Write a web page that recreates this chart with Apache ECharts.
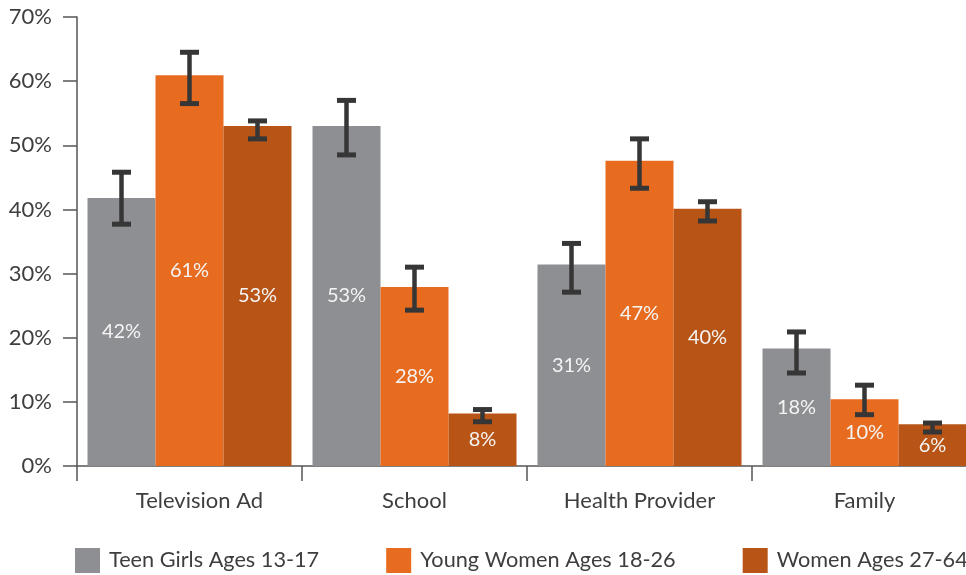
<!DOCTYPE html>
<html>
<head>
<meta charset="utf-8">
<script src="https://cdn.jsdelivr.net/npm/echarts@6/dist/echarts.min.js"></script>
<style>
html,body{margin:0;padding:0;background:#fff;overflow:hidden;width:966px;height:575px;}
#chart{width:977px;height:575px;}
</style>
</head>
<body>
<div id="chart"></div>
<script>
const categories = ['Television Ad', 'School', 'Health Provider', 'Family'];
const seriesNames = ['Teen Girls Ages 13-17', 'Young Women Ages 18-26', 'Women Ages 27-64'];
const yTicks = [0, 10, 20, 30, 40, 50, 60, 70];

const teen = [41.8, 53.0, 31.4, 18.3];
const young = [60.9, 27.9, 47.6, 10.4];
const women = [53.0, 8.2, 40.1, 6.5];

const teenLabels = ['42%', '53%', '31%', '18%'];
const youngLabels = ['61%', '28%', '47%', '10%'];
const womenLabels = ['53%', '8%', '40%', '6%'];

const teenLow = [37.7, 48.5, 27.1, 14.5];
const teenHigh = [45.8, 57.0, 34.7, 20.9];
const youngLow = [56.5, 24.3, 43.3, 8.0];
const youngHigh = [64.5, 31.0, 51.0, 12.6];
const womenLow = [51.0, 6.9, 38.2, 5.3];
const womenHigh = [53.8, 8.8, 41.2, 6.7];

const colors = ['#8E8F93', '#E86C20', '#B85516'];
const FONT = 'Lato';
const BAR_W = 68;

const chart = echarts.init(document.getElementById('chart'), null, {renderer: 'canvas'});

function barSeries(name, values, labels, color) {
  return {
    name: name,
    type: 'bar',
    data: values,
    barWidth: BAR_W,
    barGap: '0%',
    itemStyle: {color: color},
    label: {
      show: true,
      position: 'inside',
      formatter: (p) => labels[p.dataIndex],
      color: '#F4F4F4',
      fontFamily: FONT,
      fontSize: 20
    },
    z: 2
  };
}

function errSeries(low, high, offsetIndex) {
  return {
    type: 'custom',
    data: categories.map((c, i) => [i, low[i], high[i]]),
    encode: {x: 0, y: [1, 2]},
    z: 5,
    silent: true,
    renderItem: function (params, api) {
      const i = api.value(0);
      const lo = api.coord([i, api.value(1)]);
      const hi = api.coord([i, api.value(2)]);
      const x = lo[0] + (offsetIndex - 1) * BAR_W;
      const capW = 19, capH = 5;
      const col = '#363636';
      return {
        type: 'group',
        children: [
          {type: 'rect', shape: {x: x - 2.25, y: hi[1], width: 4.5, height: lo[1] - hi[1]}, style: {fill: col}},
          {type: 'rect', shape: {x: x - capW / 2, y: hi[1] - capH / 2, width: capW, height: capH}, style: {fill: col}},
          {type: 'rect', shape: {x: x - capW / 2, y: lo[1] - capH / 2, width: capW, height: capH}, style: {fill: col}}
        ]
      };
    }
  };
}

const option = {
  animation: false,
  backgroundColor: '#fff',
  grid: {left: 77, top: 17, bottom: 109, right: 0, containLabel: false},
  legend: {
    data: seriesNames,
    left: 70,
    top: 543,
    icon: 'rect',
    itemWidth: 25,
    itemHeight: 25,
    itemGap: 67,
    textStyle: {fontFamily: FONT, fontSize: 21.7, color: '#3E3E3E', padding: [0, 0, 0, 4]}
  },
  xAxis: {
    type: 'category',
    data: categories.map((c, i) => i === 0 ? {value: c, textStyle: {padding: [0, 0, 0, 20]}} : c),
    axisLine: {show: true, lineStyle: {color: '#555', width: 1.5}},
    axisTick: {show: true, length: 15, lineStyle: {color: '#555', width: 1.5}},
    axisLabel: {fontFamily: FONT, fontSize: 22, color: '#3E3E3E', margin: 24}
  },
  yAxis: {
    type: 'value',
    min: yTicks[0],
    max: yTicks[yTicks.length - 1],
    interval: 10,
    axisLine: {show: true, lineStyle: {color: '#555', width: 1.5}},
    axisTick: {show: true, length: 14, lineStyle: {color: '#555', width: 1.5}},
    splitLine: {show: false},
    axisLabel: {formatter: '{value}%', fontFamily: FONT, fontSize: 22, color: '#3E3E3E', margin: 25}
  },
  series: [
    barSeries(seriesNames[0], teen, teenLabels, colors[0]),
    barSeries(seriesNames[1], young, youngLabels, colors[1]),
    barSeries(seriesNames[2], women, womenLabels, colors[2]),
    errSeries(teenLow, teenHigh, 0),
    errSeries(youngLow, youngHigh, 1),
    errSeries(womenLow, womenHigh, 2)
  ]
};
chart.setOption(option);
</script>
</body>
</html>
